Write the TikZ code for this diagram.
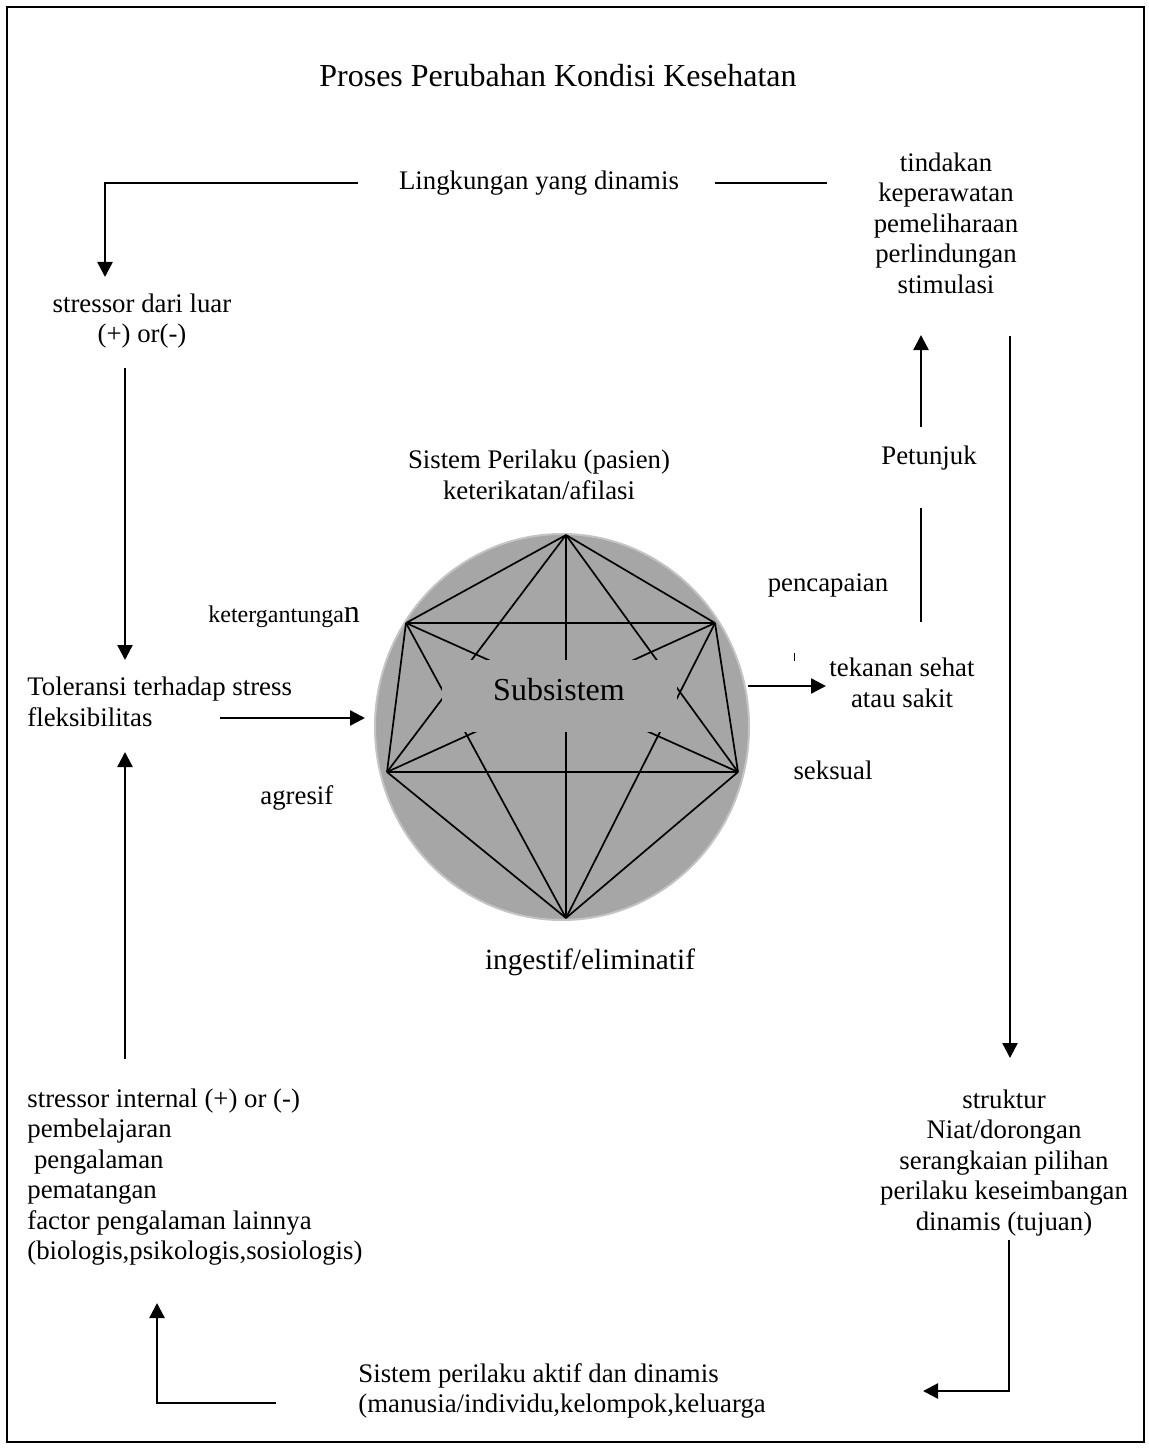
\documentclass[tikz,border=0pt]{standalone}
\usepackage{fontspec}
\setmainfont{Liberation Serif}
\usepackage{tikz}
\usetikzlibrary{arrows.meta,positioning,calc}
\definecolor{circgray}{HTML}{A6A6A6}
\definecolor{rimgray}{HTML}{C4C4C4}
\tikzset{
  txt/.style={font=\fontsize{13.4}{15.25}\selectfont, inner sep=0pt, align=center},
  ln/.style={line width=1.2pt},
  arr/.style={ln, -{Triangle[length=7.5pt,width=7.5pt]}},
  edge/.style={line width=0.85pt}
}
\begin{document}
\begin{tikzpicture}[x=0.5pt,y=-0.5pt]
\useasboundingbox (0,0) rectangle (1149,1449);
% Frame
\draw[line width=1pt] (7,7) rectangle (1144,1442);

% Title
\node[txt, font=\fontsize{16}{18}\selectfont] (title) at (558,76) {Proses Perubahan Kondisi Kesehatan};

% Top row
\node[txt] (ling) at (539,183) {Lingkungan yang dinamis};
\node[txt] (tind) at (946,223) {tindakan\\keperawatan\\pemeliharaan\\perlindungan\\stimulasi};
\node[txt] (luar) at (142,321) {stressor dari luar\\(+) or(-)};
\coordinate (lingL) at (358,183);
\coordinate (luarT) at (105,277);
\coordinate (lingR) at (715,183);
\coordinate (tindL) at (827,183);
\draw[arr] (lingL) -| (luarT);
\draw[ln] (lingR) -- (tindL);

% Left column
\node[txt, anchor=west, align=left] (tol) at (27,702) {Toleransi terhadap stress\\fleksibilitas};
\node[txt, anchor=west, align=left] (intern) at (27,1177)
  {stressor internal (+) or (-)\\pembelajaran\\\hspace*{0.25em}pengalaman\\pematangan\\factor pengalaman lainnya\\(biologis,psikologis,sosiologis)};
\coordinate (luarB) at (125,368);
\coordinate (tolT) at (125,660);
\coordinate (internT) at (125,1059);
\coordinate (tolB) at (125,752);
\draw[arr] (luarB) -- (tolT);
\draw[arr] (internT) -- (tolB);

% Behaviour system (circle)
\coordinate (c) at (562,727);
\fill[circgray] (c) ellipse [x radius=93.5pt, y radius=96.5pt];
\draw[rimgray, line width=1pt] (c) ellipse [x radius=93.5pt, y radius=96.5pt];
\coordinate (v1) at (566,535);
\coordinate (v2) at (715,623);
\coordinate (v3) at (738,772);
\coordinate (v4) at (566,918);
\coordinate (v5) at (387,772);
\coordinate (v6) at (406,623);
\foreach \i in {1,...,5} {
  \pgfmathtruncatemacro\nxt{\i+1}
  \foreach \j in {\nxt,...,6} {
    \draw[edge] (v\i) -- (v\j);
  }
}
\fill[circgray] (442,660) rectangle (677,732);
\node[txt, font=\fontsize{16}{18}\selectfont] (sub) at (559,690) {Subsistem};

% Labels round the circle
\node[txt] (sist) at (539,475) {Sistem Perilaku (pasien)\\keterikatan/afilasi};
\node[txt, anchor=west, font=\fontsize{12}{14}\selectfont] (ket) at (208,617) {ketergantunga{\fontsize{16}{16}\selectfont n}};
\node[txt, anchor=west] (agr) at (260,798) {agresif};
\node[txt] (seks) at (833,770) {seksual};
\node[txt, font=\fontsize{14.65}{17}\selectfont] (ing) at (590,962) {ingestif/eliminatif};
\node[txt] (penc) at (828,585) {pencapaian};
\node[txt] (tek) at (902,683) {tekanan sehat\\atau sakit};
\node[txt] (pet) at (929,458) {Petunjuk};
\coordinate (tolR) at (220,718);
\coordinate (cW) at (365,718);
\coordinate (cE) at (748,686);
\coordinate (tekW) at (826,686);
\draw[arr] (tolR) -- (cW);
\draw[arr] (cE) -- (tekW);
\coordinate (petB) at (921,508);
\coordinate (tekT) at (921,622);
\coordinate (petT) at (921,427);
\coordinate (tindB) at (921,335);
\draw[ln] (petB) -- (tekT);
\draw[arr] (petT) -- (tindB);
\draw[line width=0.5pt] (794,653) -- (794,661);

% Right column
\node[txt] (strukt) at (1004,1163) {struktur\\Niat/dorongan\\serangkaian pilihan\\perilaku keseimbangan\\dinamis (tujuan)};
\coordinate (tindR) at (1010,336);
\coordinate (struktT) at (1010,1058);
\draw[arr] (tindR) -- (struktT);

% Bottom row
\node[txt, anchor=west, align=left] (aktif) at (358,1391) {Sistem perilaku aktif dan dinamis\\(manusia/individu,kelompok,keluarga};
\coordinate (struktB) at (1009,1240);
\coordinate (aktifR) at (923,1391);
\coordinate (aktifL) at (276,1403);
\coordinate (internB) at (157,1303);
\draw[arr] (struktB) |- (aktifR);
\draw[arr] (aktifL) -| (internB);
\end{tikzpicture}
\end{document}
